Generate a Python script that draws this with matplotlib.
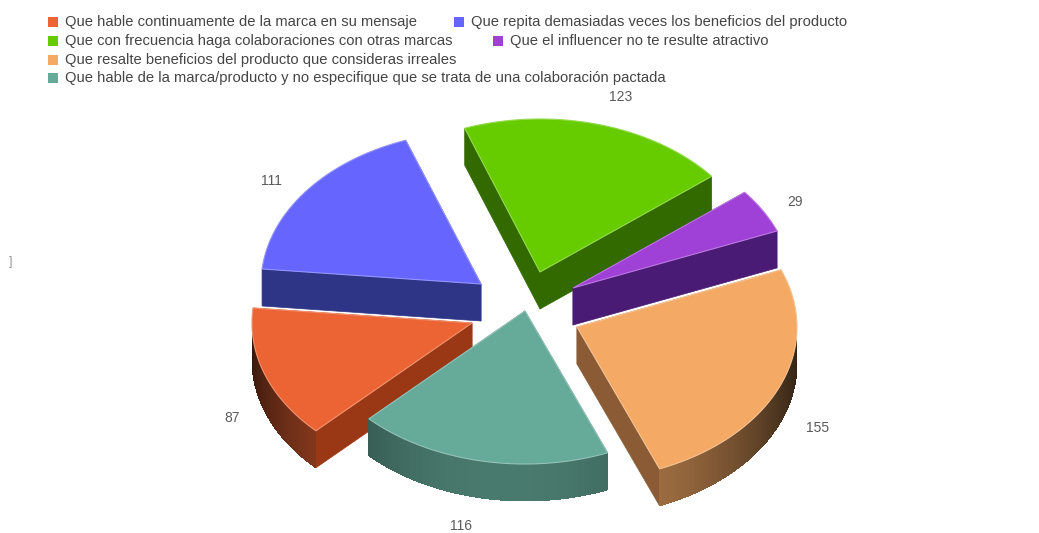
import numpy as np
from matplotlib import pyplot as plt
from matplotlib.colors import to_rgb

plt.rcParams['font.family'] = ['Liberation Sans', 'DejaVu Sans']

categories = ['Que hable continuamente de la marca en su mensaje',
              'Que repita demasiadas veces los beneficios del producto',
              'Que con frecuencia haga colaboraciones con otras marcas',
              'Que el influencer no te resulte atractivo',
              'Que resalte beneficios del producto que consideras irreales',
              'Que hable de la marca/producto y no especifique que se trata de una colaboración pactada']
values = [87, 111, 123, 29, 155, 116]

top_colors = ['#ec6433', '#6666ff', '#66cc00', '#9f40d6', '#f4a964', '#66aa99']
wall_colors = ['#9a3816', '#2e3586', '#336a00', '#4a1b74', '#8a5b35', '#3f6f60']

# centre of the pie, and how far each slice is pulled out of it
cx, cy = 525, 297
explode_x = [-53, -44, 15, 48, 52, 0]
explode_y = [26, -13, -25, -9, 30, 14]
rx, ry = 220, 153
depth = 37
start_angle = -135.2

legend_x = [48, 454, 48, 493, 48, 48]
legend_y = [22, 22, 41, 41, 60, 78]
label_x = [232, 271, 621, 795, 818, 461]
label_y = [418, 181, 97, 202, 428, 526]
draw_order = [2, 1, 3, 0, 4, 5]

fig = plt.figure(figsize=(10.39, 5.33), dpi=100)
ax = fig.add_axes([0, 0, 1, 1])
ax.set_xlim(0, 1039)
ax.set_ylim(533, 0)
ax.axis('off')

sweeps = np.array(values) / sum(values) * 360
ends = start_angle - np.cumsum(sweeps)
starts = ends + sweeps


def shade(color, amount):
    return tuple(c * amount for c in to_rgb(color))


for i in draw_order:
    layer = draw_order.index(i) * 3
    x0 = cx + explode_x[i]
    y0 = cy + explode_y[i]
    theta = np.radians(np.linspace(starts[i], ends[i], 200))
    xs = x0 + rx * np.cos(theta)
    ys = y0 - ry * np.sin(theta)

    # flat walls along both straight edges
    for j in [0, -1]:
        ax.fill([x0, xs[j], xs[j], x0], [y0, ys[j], ys[j] + depth, y0 + depth],
                color=wall_colors[i], lw=0.5, zorder=layer + 1)

    # curved wall, brightest towards the front of the pie
    for j in range(len(theta) - 1):
        if np.sin(theta[j]) > 0.02 and np.sin(theta[j + 1]) > 0.02:
            continue
        f = max(0, np.cos(theta[j] + np.radians(95))) ** 1.5
        col = shade(top_colors[i], 0.22 + 0.5 * f)
        ax.fill([xs[j], xs[j + 1], xs[j + 1], xs[j]],
                [ys[j], ys[j + 1], ys[j + 1] + depth, ys[j] + depth],
                color=col, lw=0, antialiased=False, zorder=layer + 2)

    # top face with a thin lighter rim
    rim = tuple(c + (1 - c) * 0.3 for c in to_rgb(top_colors[i]))
    ax.fill(np.r_[x0, xs], np.r_[y0, ys], facecolor=top_colors[i], edgecolor=rim,
            lw=0.8, zorder=layer + 3)

    ax.text(label_x[i], label_y[i], str(values[i]), fontsize=10, color='#5a5a5a',
            ha='center', va='center', zorder=30)

    ax.scatter(legend_x[i] + 5, legend_y[i], marker='s', s=52, color=top_colors[i],
               linewidths=0, zorder=30)
    ax.text(legend_x[i] + 17, legend_y[i], categories[i], fontsize=10.65, color='#444444',
            ha='left', va='center', zorder=30)

ax.text(11, 262, ']', fontsize=9, color='#999999', ha='center', va='center')

plt.savefig('out.png')
